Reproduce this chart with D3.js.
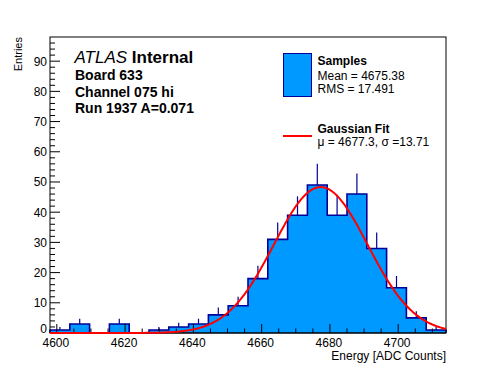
<!DOCTYPE html>
<html><head><meta charset="utf-8">
<script src="https://cdn.jsdelivr.net/npm/d3@7"></script>
<style>
html,body{margin:0;padding:0;background:#fff;}
svg{display:block;font-family:"Liberation Sans",Arial,Helvetica,sans-serif;}
</style></head>
<body>
<script>
// ---- data ----
const binLow = 4598;
const binWidth = 5.8;
const counts = [1,3,0,3,0,1,2,3,6,9,18,31,39,49,39,46,28,15,5,1];
const xTicks = [4600,4620,4640,4660,4680,4700];
const yTicks = [0,10,20,30,40,50,60,70,80,90];
const fitMu = 4677.3;
const fitSigma = 13.71;
const fitAmp = 48.3;
const infoLines = ["Board 633","Channel 075 hi","Run 1937 A=0.071"];
const legendSamples = ["Samples","Mean = 4675.38","RMS = 17.491"];
const legendFit = ["Gaussian Fit","\u03bc = 4677.3, \u03c3 =13.71"];

const W = 496, H = 372;
const fillCol = "#0099ff", lineCol = "#000099";
const svg = d3.select("body").append("svg").attr("width", W).attr("height", H);

const x = d3.scaleLinear().domain([binLow, binLow + binWidth*counts.length]).range([50, 446]);
const y = d3.scaleLinear().domain([0, 98]).range([333, 37]);

const bins = counts.map((c,i)=>({x0: binLow + i*binWidth, x1: binLow + (i+1)*binWidth, n: c}));

// error bars (drawn first; fill hides inner part)
svg.append("g").selectAll("line").data(bins.filter(b=>b.n>0)).join("line")
  .attr("x1", d=>x((d.x0+d.x1)/2)).attr("x2", d=>x((d.x0+d.x1)/2))
  .attr("y1", d=>y(d.n+Math.sqrt(d.n))).attr("y2", d=>y(Math.max(0,d.n-Math.sqrt(d.n))))
  .attr("stroke", lineCol).attr("stroke-width", 1.2);

// histogram fill + step outline
const stepPts = [];
bins.forEach(b=>{ stepPts.push([x(b.x0), y(b.n)]); stepPts.push([x(b.x1), y(b.n)]); });
const area = [[x(bins[0].x0), y(0)], ...stepPts, [x(bins[bins.length-1].x1), y(0)]];
svg.append("path").attr("d", d3.line()(area)).attr("fill", fillCol).attr("stroke", "none");
svg.append("path").attr("d", d3.line()(area)).attr("fill", "none").attr("stroke", lineCol).attr("stroke-width", 1.6);

// frame
svg.append("rect").attr("x", 50).attr("y", 37).attr("width", 396).attr("height", 296)
  .attr("fill","none").attr("stroke","#000").attr("stroke-width",1);

// x axis ticks (inside)
const gx = svg.append("g").attr("transform","translate(0,333)");
const xMinor = d3.range(4600, 4714, 5);
gx.selectAll("line.mi").data(xMinor).join("line")
  .attr("x1", d=>x(d)).attr("x2", d=>x(d)).attr("y1", 0)
  .attr("y2", d=> (d%20===0) ? -9 : -4.5).attr("stroke","#000").attr("stroke-width",1);
gx.selectAll("text").data(xTicks).join("text")
  .attr("x", d=>x(d)-1).attr("y", 14).attr("text-anchor","middle")
  .attr("font-size", 12).text(d=>d);
svg.append("text").attr("x", 446).attr("y", 360).attr("text-anchor","end")
  .attr("font-size", 12).text("Energy [ADC Counts]");

// y axis ticks (inside)
const gy = svg.append("g").attr("transform","translate(50,0)");
const yMinor = d3.range(0, 98, 2);
gy.selectAll("line").data(yMinor).join("line")
  .attr("x1", 0).attr("x2", d=> (d%10===0) ? 10 : 5)
  .attr("y1", d=>y(d)).attr("y2", d=>y(d)).attr("stroke","#000").attr("stroke-width",1);
gy.selectAll("text").data(yTicks).join("text")
  .attr("x", -3).attr("y", d=>y(d)+ (d===0 ? 0 : 4.5)).attr("text-anchor","end")
  .attr("font-size", 12).text(d=>d);
svg.append("text").attr("transform","translate(22,37) rotate(-90)").attr("text-anchor","end")
  .attr("font-size", 11).text("Entries");

// axis base line on top of fill
svg.append("line").attr("x1",50).attr("x2",446).attr("y1",333).attr("y2",333).attr("stroke","#000");

// gaussian fit curve (from fit parameters)
const fitXs = d3.range(0, 401).map(i => binLow + i*(binWidth*counts.length)/400);
const fitLine = d3.line().x(d=>x(d)).y(d=>y(fitAmp*Math.exp(-0.5*Math.pow((d-fitMu)/fitSigma,2))));
svg.append("path").attr("d", fitLine(fitXs)).attr("fill","none").attr("stroke","#ff0000").attr("stroke-width",2);

// ATLAS label block
const t = svg.append("text").attr("x", 74.5).attr("y", 62.5).attr("font-size", 17);
t.append("tspan").attr("font-style","italic").text("ATLAS");
t.append("tspan").attr("font-weight","bold").text(" Internal");
infoLines.forEach((s,i)=>{
  svg.append("text").attr("x",75).attr("y", 80 + i*16.6).attr("font-size",14).attr("font-weight","bold").text(s);
});

// legend
svg.append("rect").attr("x",283.5).attr("y",53.5).attr("width",28).attr("height",43)
  .attr("fill",fillCol).attr("stroke",lineCol).attr("stroke-width",1);
legendSamples.forEach((s,i)=>{
  svg.append("text").attr("x",317.5).attr("y", i===0 ? 65 : 80 + (i-1)*13.3)
    .attr("font-size",12).attr("font-weight", i===0 ? "bold" : "normal").text(s);
});
svg.append("line").attr("x1",283).attr("x2",312).attr("y1",136).attr("y2",136)
  .attr("stroke","#ff0000").attr("stroke-width",2);
legendFit.forEach((s,i)=>{
  svg.append("text").attr("x",317.5).attr("y", 132.7 + i*13.3)
    .attr("font-size",12).attr("font-weight", i===0 ? "bold" : "normal").text(s);
});
</script>
</body></html>
